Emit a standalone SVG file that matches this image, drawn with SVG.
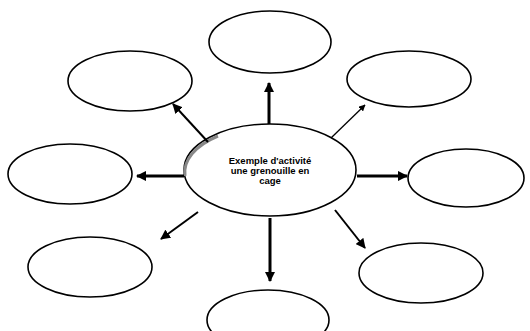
<svg xmlns="http://www.w3.org/2000/svg" width="530" height="331" viewBox="0 0 530 331">
<style>
.n{fill:#fff;stroke:#000;stroke-width:1.6}
.c{stroke:#000;fill:none}
.t{font-family:"Liberation Sans",Arial,sans-serif;font-size:9.5px;font-weight:bold;fill:#000}
</style>
<defs>
<marker id="ah" viewBox="0 0 10 10" refX="9" refY="5" markerWidth="3.5" markerHeight="3.5" orient="auto" markerUnits="strokeWidth"><path d="M0,0L10,5L0,10z" fill="#000"/></marker>
<marker id="ah2" viewBox="0 0 10 10" refX="9" refY="5" markerWidth="5" markerHeight="5" orient="auto" markerUnits="strokeWidth"><path d="M0,0L10,5L0,10z" fill="#000"/></marker>
</defs>
<rect width="530" height="331" fill="#fff"/>
<g id="center">
<ellipse class="n" cx="270" cy="170" rx="86" ry="46"/>
<path d="M185,176 A86,46 0 0 1 218,136" fill="none" stroke="#888" stroke-width="3"/>
<text class="t" x="270" y="164" text-anchor="middle">Exemple d'activité</text>
<text class="t" x="270" y="174" text-anchor="middle">une grenouille en</text>
<text class="t" x="270" y="184" text-anchor="middle">cage</text>
</g>
<g id="n-top"><ellipse class="n" cx="270" cy="42" rx="61" ry="31"/></g>
<g id="n-upleft"><ellipse class="n" cx="130" cy="81" rx="62" ry="30"/></g>
<g id="n-upright"><ellipse class="n" cx="409" cy="79" rx="62" ry="28"/></g>
<g id="n-left"><ellipse class="n" cx="70" cy="174" rx="62" ry="30"/></g>
<g id="n-right"><ellipse class="n" cx="466" cy="178" rx="58" ry="29"/></g>
<g id="n-lowleft"><ellipse class="n" cx="90" cy="267" rx="62" ry="30"/></g>
<g id="n-lowright"><ellipse class="n" cx="421" cy="273" rx="62" ry="30"/></g>
<g id="n-bottom"><ellipse class="n" cx="268" cy="320" rx="61" ry="30"/></g>
<g id="connectors">
<line class="c" x1="269" y1="124" x2="269" y2="83" stroke-width="3" marker-end="url(#ah)"/>
<line class="c" x1="208" y1="142" x2="173" y2="104" stroke-width="2" marker-end="url(#ah2)"/>
<line class="c" x1="331" y1="138" x2="365" y2="105" stroke-width="1.3" marker-end="url(#ah2)"/>
<line class="c" x1="184" y1="176" x2="137" y2="176" stroke-width="3" marker-end="url(#ah)"/>
<line class="c" x1="357" y1="176" x2="407" y2="176" stroke-width="3" marker-end="url(#ah)"/>
<line class="c" x1="198" y1="212" x2="161" y2="239" stroke-width="2" marker-end="url(#ah2)"/>
<line class="c" x1="270" y1="218" x2="270" y2="281" stroke-width="3" marker-end="url(#ah)"/>
<line class="c" x1="335" y1="210" x2="365" y2="248" stroke-width="2" marker-end="url(#ah2)"/>
</g>
</svg>
